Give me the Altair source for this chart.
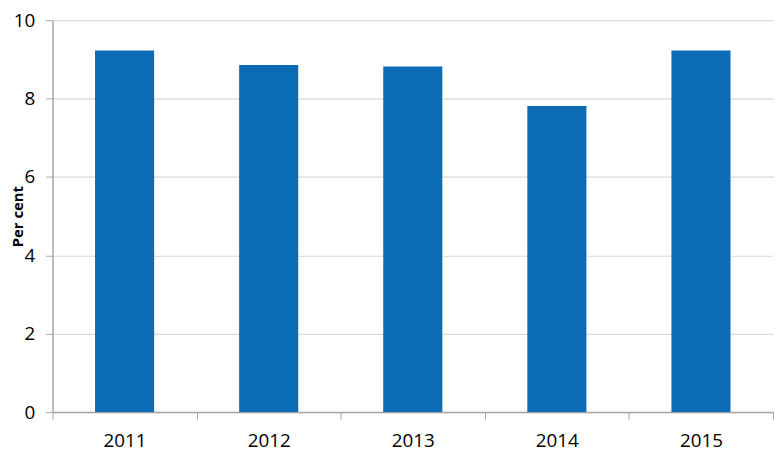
import altair as alt
import pandas as pd

years = ["2011", "2012", "2013", "2014", "2015"]
values = [9.23, 8.86, 8.82, 7.81, 9.23]

df = pd.DataFrame({"year": years, "value": values})

FONT = "Open Sans"
W, H = 728, 396

chart = alt.Chart(df).mark_bar(
    color="#0B6BB5", width=alt.RelativeBandSize(0.41)
).encode(
    x=alt.X(
        "year:N",
        sort=years,
        scale=alt.Scale(paddingInner=0, paddingOuter=0),
        axis=alt.Axis(
            title=None,
            labelAngle=0,
            labelFont=FONT,
            labelFontSize=19,
            labelColor="#000000",
            labelPadding=13,
            tickBand="extent",
            tickSize=7,
            tickColor="#a6a6a6",
            domainColor="#a6a6a6",
            domainWidth=1.5,
            grid=False,
        ),
    ),
    y=alt.Y(
        "value:Q",
        scale=alt.Scale(domain=[0, 10], nice=False),
        axis=alt.Axis(
            title="Per cent",
            values=[0, 2, 4, 6, 8, 10],
            titleFont=FONT,
            titleFontSize=15,
            titleFontWeight="bold",
            titleColor="#000000",
            titleAngle=270,
            titleBaseline="top",
            titleAlign="center",
            titleX=-42,
            titleY=H / 2,
            labelFont=FONT,
            labelFontSize=19,
            labelColor="#000000",
            labelPadding=11,
            tickSize=7,
            tickColor="#a6a6a6",
            domainColor="#a6a6a6",
            domainWidth=1.5,
            grid=True,
            gridColor="#d9d9d9",
            gridWidth=1.2,
        ),
    ),
).properties(
    width=W,
    height=H,
    autosize=alt.AutoSizeParams(type="none"),
    padding={"left": 45, "top": 10, "right": 2, "bottom": 40},
).configure_view(stroke=None)

chart.save("out.html", embed_options={"renderer": "svg", "actions": False})
